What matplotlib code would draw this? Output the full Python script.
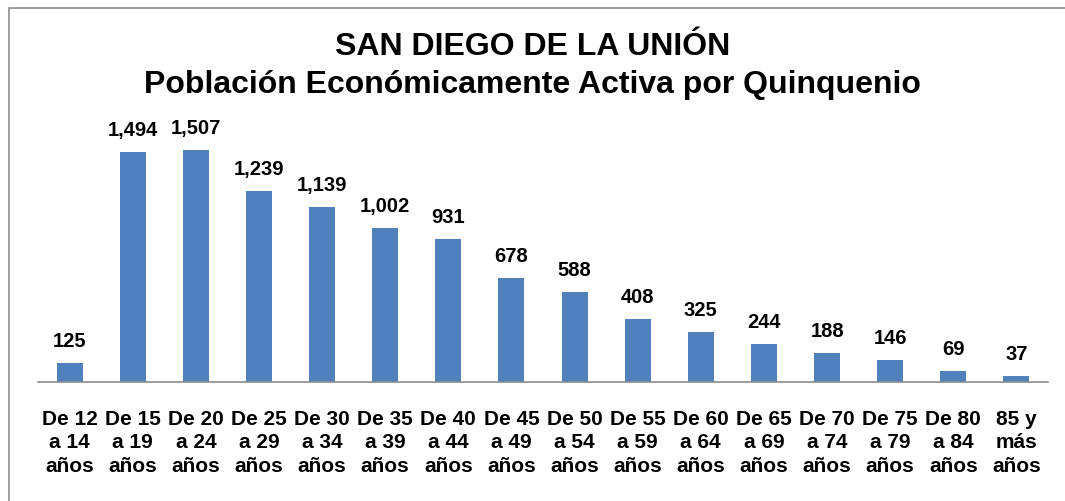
import matplotlib.pyplot as plt
from matplotlib.patches import Rectangle

# === DATA ===
categories = ["De 12\na 14\naños", "De 15\na 19\naños", "De 20\na 24\naños",
              "De 25\na 29\naños", "De 30\na 34\naños", "De 35\na 39\naños",
              "De 40\na 44\naños", "De 45\na 49\naños", "De 50\na 54\naños",
              "De 55\na 59\naños", "De 60\na 64\naños", "De 65\na 69\naños",
              "De 70\na 74\naños", "De 75\na 79\naños", "De 80\na 84\naños",
              "85 y\nmás\naños"]
values = [125, 1494, 1507, 1239, 1139, 1002, 931, 678, 588, 408, 325, 244,
          188, 146, 69, 37]
title_lines = ["SAN DIEGO DE LA UNIÓN",
               "Población Económicamente Activa por Quinquenio"]

plt.rcParams['font.family'] = ['Liberation Sans', 'DejaVu Sans']

W, H = 1065, 501
fig = plt.figure(figsize=(W / 100, H / 100), dpi=100)

# outer chart border
fig.patches.append(Rectangle((9 / W, -0.1), 1.2, 1 - 8 / H + 0.1,
                             transform=fig.transFigure, fill=False,
                             edgecolor="#8c8c8c", linewidth=1.2))

ax = fig.add_axes([38 / W, 1 - 382 / H, (1048 - 38) / W, (382 - 105) / H])
x = range(len(values))
ax.bar(x, values, width=0.41, color="#4F81BD")
ax.set_xlim(-0.5, len(values) - 0.5)
ax.set_ylim(0, 1800)

for i, v in enumerate(values):
    ax.text(i, v + 78, f"{v:,}", ha="center", va="bottom",
            fontsize=14.5, fontweight="bold")

ax.set_xticks(list(x))
ax.set_xticklabels(categories, fontsize=15, fontweight="bold",
                   linespacing=1.3)
ax.tick_params(axis="x", length=0, pad=20)
ax.set_yticks([])
for side in ["top", "right", "left"]:
    ax.spines[side].set_visible(False)
ax.spines["bottom"].set_color("#8c8c8c")
ax.spines["bottom"].set_linewidth(1.2)

fig.text(0.5, 1 - 47 / H, title_lines[0], ha="center", va="center",
         fontsize=23, fontweight="bold")
fig.text(0.5, 1 - 85 / H, title_lines[1], ha="center", va="center",
         fontsize=23, fontweight="bold")

fig.savefig("out.png", dpi=100)
